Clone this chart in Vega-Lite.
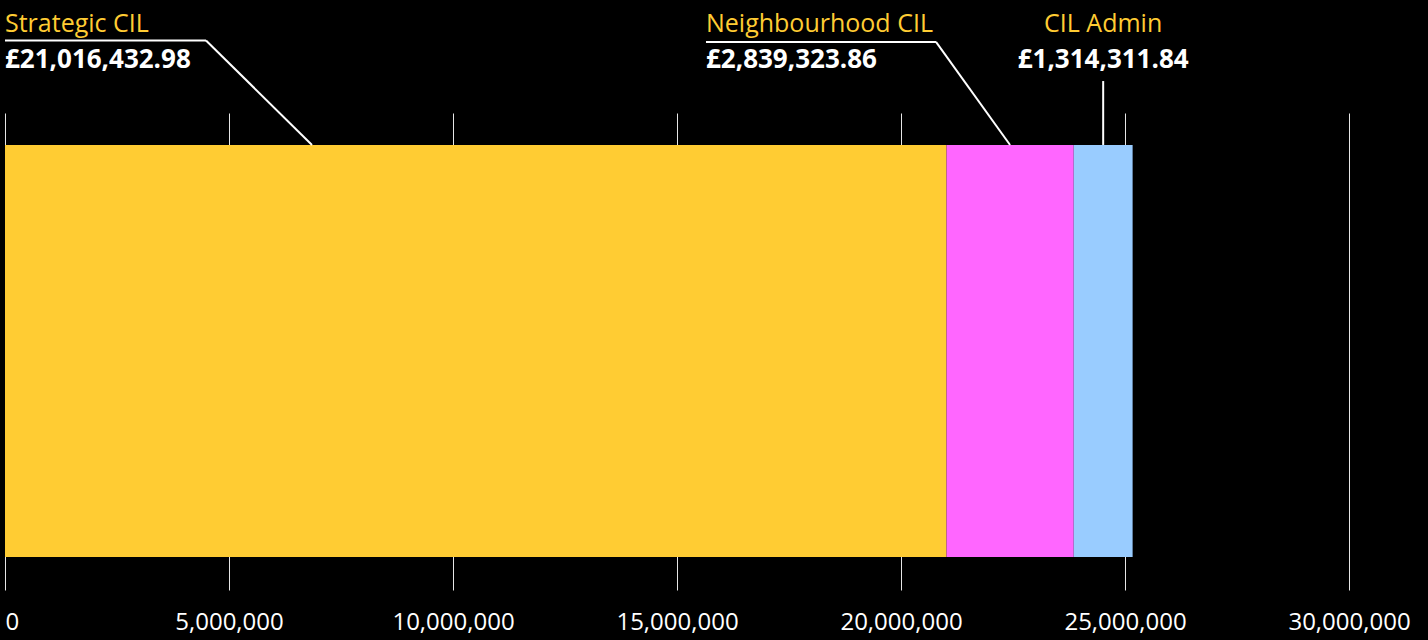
{
  "$schema": "https://vega.github.io/schema/vega-lite/v6.json",
  "width": 1344,
  "height": 477,
  "autosize": {"type": "none"},
  "padding": {"left": 5, "top": 113, "right": 79, "bottom": 50},
  "background": "#000000",
  "config": {
    "font": "Open Sans",
    "view": {"stroke": null},
    "locale": {"number": {"decimal": ".", "thousands": ",", "grouping": [3], "currency": ["£", ""]}},
    "axisX": {
      "domain": false,
      "ticks": false,
      "grid": true,
      "gridColor": "#ffffff",
      "gridWidth": 1,
      "gridOpacity": 0.9,
      "labelColor": "#ffffff",
      "labelFont": "Open Sans",
      "labelFontSize": 24,
      "labelPadding": 20,
      "labelBaseline": "top",
      "title": null
    }
  },
  "data": {
    "values": [
      {"category": "Strategic CIL", "value": 21016432.98},
      {"category": "Neighbourhood CIL", "value": 2839323.86},
      {"category": "CIL Admin", "value": 1314311.84}
    ]
  },
  "transform": [
    {"stack": "value", "groupby": [], "sort": [{"field": "value", "order": "descending"}], "as": ["x0", "x1"]},
    {"calculate": "(datum.x0 + datum.x1) / 2", "as": "mid"}
  ],
  "layer": [
    {
      "mark": {"type": "bar", "strokeWidth": 0},
      "encoding": {
        "x": {
          "field": "x0", "type": "quantitative", "title": null,
          "scale": {"domain": [0, 30000000], "nice": false, "zero": true},
          "axis": {
            "values": [0, 5000000, 10000000, 15000000, 20000000, 25000000, 30000000],
            "format": ",.0f",
            "labelAlign": {"expr": "datum.value === 0 ? 'left' : 'center'"}
          }
        },
        "x2": {"field": "x1"},
        "y": {"datum": 0.69, "type": "quantitative", "scale": {"domain": [0, 10], "nice": false, "zero": true}, "axis": null},
        "y2": {"datum": 9.33},
        "color": {
          "field": "category", "type": "nominal",
          "scale": {"domain": ["Strategic CIL", "Neighbourhood CIL", "CIL Admin"], "range": ["#FFCC33", "#FF66FF", "#99CCFF"]},
          "legend": null
        }
      }
    },
    {
      "transform": [{"filter": "datum.category === 'Strategic CIL'"}],
      "mark": {"type": "text", "align": "left", "baseline": "alphabetic", "fontSize": 25, "color": "#FFCC33"},
      "encoding": {
        "x": {"datum": 0, "type": "quantitative", "title": null},
        "y": {"datum": 11.7, "type": "quantitative", "axis": null},
        "text": {"field": "category"}
      }
    },
    {
      "transform": [{"filter": "datum.category === 'Strategic CIL'"}],
      "mark": {"type": "text", "align": "left", "baseline": "alphabetic", "fontSize": 26, "fontWeight": "bold", "color": "#ffffff"},
      "encoding": {
        "x": {"datum": 0, "type": "quantitative", "title": null},
        "y": {"datum": 10.94, "type": "quantitative", "axis": null},
        "text": {"field": "value", "type": "quantitative", "format": "$,.2f"}
      }
    },
    {
      "transform": [{"filter": "datum.category === 'Strategic CIL'"}],
      "mark": {"type": "rule", "color": "#ffffff", "strokeWidth": 2},
      "encoding": {
        "x": {"datum": 0, "type": "quantitative", "title": null},
        "x2": {"datum": 4487000},
        "y": {"datum": 11.52, "type": "quantitative", "axis": null}
      }
    },
    {
      "transform": [{"filter": "datum.category === 'Strategic CIL'"}],
      "mark": {"type": "rule", "color": "#ffffff", "strokeWidth": 2},
      "encoding": {
        "x": {"datum": 4487000, "type": "quantitative", "title": null},
        "x2": {"datum": 6853000},
        "y": {"datum": 11.52, "type": "quantitative", "axis": null},
        "y2": {"datum": 9.33}
      }
    },
    {
      "transform": [{"filter": "datum.category === 'Neighbourhood CIL'"}],
      "mark": {"type": "text", "align": "left", "baseline": "alphabetic", "fontSize": 25, "color": "#FFCC33"},
      "encoding": {
        "x": {"datum": 15647000, "type": "quantitative", "title": null},
        "y": {"datum": 11.7, "type": "quantitative", "axis": null},
        "text": {"field": "category"}
      }
    },
    {
      "transform": [{"filter": "datum.category === 'Neighbourhood CIL'"}],
      "mark": {"type": "text", "align": "left", "baseline": "alphabetic", "fontSize": 26, "fontWeight": "bold", "color": "#ffffff"},
      "encoding": {
        "x": {"datum": 15647000, "type": "quantitative", "title": null},
        "y": {"datum": 10.94, "type": "quantitative", "axis": null},
        "text": {"field": "value", "type": "quantitative", "format": "$,.2f"}
      }
    },
    {
      "transform": [{"filter": "datum.category === 'Neighbourhood CIL'"}],
      "mark": {"type": "rule", "color": "#ffffff", "strokeWidth": 2},
      "encoding": {
        "x": {"datum": 15647000, "type": "quantitative", "title": null},
        "x2": {"datum": 20781000},
        "y": {"datum": 11.49, "type": "quantitative", "axis": null}
      }
    },
    {
      "transform": [{"filter": "datum.category === 'Neighbourhood CIL'"}],
      "mark": {"type": "rule", "color": "#ffffff", "strokeWidth": 2},
      "encoding": {
        "x": {"datum": 20781000, "type": "quantitative", "title": null},
        "x2": {"datum": 22435095},
        "y": {"datum": 11.49, "type": "quantitative", "axis": null},
        "y2": {"datum": 9.33}
      }
    },
    {
      "transform": [{"filter": "datum.category === 'CIL Admin'"}],
      "mark": {"type": "text", "align": "center", "baseline": "alphabetic", "fontSize": 25, "color": "#FFCC33"},
      "encoding": {
        "x": {"field": "mid", "type": "quantitative", "title": null},
        "y": {"datum": 11.7, "type": "quantitative", "axis": null},
        "text": {"field": "category"}
      }
    },
    {
      "transform": [{"filter": "datum.category === 'CIL Admin'"}],
      "mark": {"type": "text", "align": "center", "baseline": "alphabetic", "fontSize": 26, "fontWeight": "bold", "color": "#ffffff"},
      "encoding": {
        "x": {"field": "mid", "type": "quantitative", "title": null},
        "y": {"datum": 10.94, "type": "quantitative", "axis": null},
        "text": {"field": "value", "type": "quantitative", "format": "$,.2f"}
      }
    },
    {
      "transform": [{"filter": "datum.category === 'CIL Admin'"}],
      "mark": {"type": "rule", "color": "#ffffff", "strokeWidth": 2},
      "encoding": {
        "x": {"datum": 24512912, "type": "quantitative", "title": null},
        "x2": {"datum": 24512912},
        "y": {"datum": 10.67, "type": "quantitative", "axis": null},
        "y2": {"datum": 9.33}
      }
    }
  ]
}
